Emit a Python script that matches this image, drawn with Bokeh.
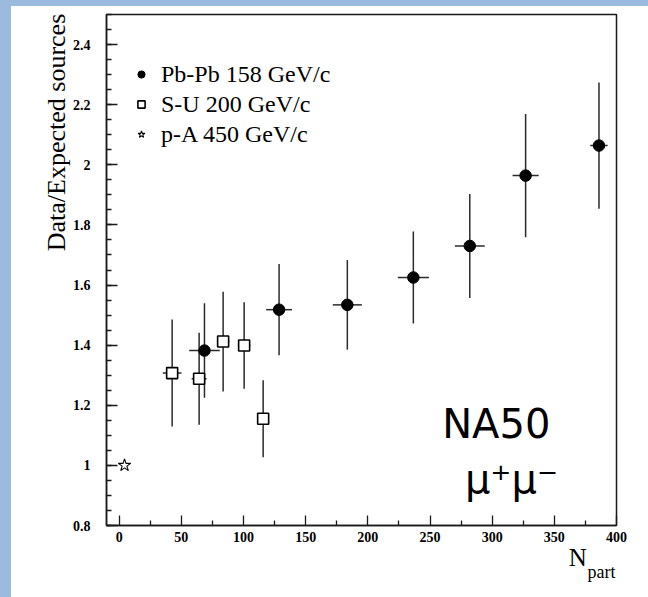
from math import pi
from bokeh.plotting import figure
from bokeh.models import (FixedTicker, Legend, LegendItem, Label, LinearAxis,
                          GlobalInlineStyleSheet)
from bokeh.embed import file_html
from bokeh.resources import INLINE

# ---- data ----
# Pb-Pb 158 GeV/c
pb_npart = [68.6, 128.6, 183.5, 236.6, 282.0, 326.9, 385.9]
pb_ratio = [1.382, 1.518, 1.534, 1.625, 1.730, 1.964, 2.064]
pb_yerr = [0.157, 0.152, 0.149, 0.153, 0.173, 0.205, 0.210]
pb_xerr = [12.3, 10.4, 11.7, 12.5, 12.0, 10.5, 7.0]
# S-U 200 GeV/c
su_npart = [42.6, 64.3, 83.6, 100.5, 115.8]
su_ratio = [1.307, 1.288, 1.412, 1.399, 1.155]
su_yerr = [0.178, 0.153, 0.166, 0.144, 0.128]
su_xerr = [7.5, 6.0, 5.0, 5.0, 4.0]
# p-A 450 GeV/c
pa_npart = [4.3]
pa_ratio = [1.0]

x_ticks = [0, 50, 100, 150, 200, 250, 300, 350, 400]
x_tick_labels = ["0", "50", "100", "150", "200", "250", "300", "350", "400"]
y_ticks = [0.8, 1.0, 1.2, 1.4, 1.6, 1.8, 2.0, 2.2, 2.4]
y_tick_labels = ["0.8", "1", "1.2", "1.4", "1.6", "1.8", "2", "2.2", "2.4"]
series_labels = ["Pb-Pb 158 GeV/c", "S-U 200 GeV/c", "p-A 450 GeV/c"]
y_title = "Data/Expected sources"
x_title = "N"
x_title_sub = "part"

SERIF = "Liberation Serif"
INK = "#1a1a1a"

p = figure(width=636, height=590, output_backend="svg", toolbar_location=None,
           x_range=(-10.2, 400), y_range=(0.8, 2.5),
           min_border_left=95, min_border_right=31, min_border_top=8, min_border_bottom=71)
p.grid.visible = False
p.outline_line_color = INK
p.outline_line_width = 1.5
p.background_fill_color = "white"
p.border_fill_color = "white"

p.stylesheets = [GlobalInlineStyleSheet(css=(
    "html { background: linear-gradient(to right, #9bbade 0px, #9bbade 11px, rgba(0,0,0,0) 11px),"
    " linear-gradient(to bottom, #9bbade 0px, #9bbade 6px, #ffffff 6px) !important; }"
    " body { padding: 6px 0 0 11px !important; background: transparent !important; }"))]

# axes
p.xaxis.ticker = FixedTicker(ticks=x_ticks, minor_ticks=[v + 25 for v in x_ticks[:-1]])
p.xaxis.major_label_overrides = {t: s for t, s in zip(x_ticks, x_tick_labels)}
minor_y = [round(0.8 + 0.05 * i, 2) for i in range(35)]
p.yaxis.ticker = FixedTicker(ticks=y_ticks, minor_ticks=minor_y)
p.yaxis.major_label_overrides = {t: s for t, s in zip(y_ticks, y_tick_labels)}
for ax in (p.xaxis, p.yaxis):
    ax.axis_line_color = INK
    ax.axis_line_width = 1.5
    ax.major_tick_line_color = INK
    ax.minor_tick_line_color = INK
    ax.major_tick_line_width = 1.3
    ax.minor_tick_line_width = 1.3
    ax.major_tick_out = 0
    ax.minor_tick_out = 0
    ax.major_label_text_font = SERIF
    ax.major_label_text_font_style = "bold"
    ax.major_label_text_font_size = "14px"
    ax.major_label_text_color = "black"
p.xaxis.major_tick_in = 10
p.xaxis.minor_tick_in = 5
p.yaxis.major_tick_in = 11
p.yaxis.minor_tick_in = 5
p.xaxis.major_label_standoff = 6
p.yaxis.major_label_standoff = 16


def title_axis(pos, text, size, standoff, orientation="horizontal"):
    ax = LinearAxis(ticker=FixedTicker(ticks=[pos], minor_ticks=[]),
                    major_label_overrides={pos: text},
                    axis_line_color=None, major_tick_line_color=None,
                    minor_tick_line_color=None, major_tick_in=0, major_tick_out=0,
                    minor_tick_in=0, minor_tick_out=0,
                    major_label_standoff=standoff, major_label_orientation=orientation,
                    major_label_text_font=SERIF, major_label_text_font_size=size,
                    major_label_text_color="black")
    return ax


# axis titles as extra (line-less) axes so they can sit outside the frame
p.add_layout(title_axis(2.1075, y_title, "26px", -2, "parallel"), "left")
p.add_layout(title_axis(368.8, x_title, "25px", -1), "below")
p.add_layout(title_axis(387.9, x_title_sub, "18px", -12), "below")

# error bars
ERR = "#2b2b2b"
p.segment(x0=pb_npart, x1=pb_npart,
          y0=[v - e for v, e in zip(pb_ratio, pb_yerr)],
          y1=[v + e for v, e in zip(pb_ratio, pb_yerr)], line_color=ERR, line_width=1.5)
p.segment(x0=[v - e for v, e in zip(pb_npart, pb_xerr)],
          x1=[v + e for v, e in zip(pb_npart, pb_xerr)],
          y0=pb_ratio, y1=pb_ratio, line_color=ERR, line_width=1.5)
p.segment(x0=su_npart, x1=su_npart,
          y0=[v - e for v, e in zip(su_ratio, su_yerr)],
          y1=[v + e for v, e in zip(su_ratio, su_yerr)], line_color=ERR, line_width=1.5)
p.segment(x0=[v - e for v, e in zip(su_npart, su_xerr)],
          x1=[v + e for v, e in zip(su_npart, su_xerr)],
          y0=su_ratio, y1=su_ratio, line_color=ERR, line_width=1.5)

# markers
r_pb = p.scatter(pb_npart, pb_ratio, marker="circle", size=11.5,
                 fill_color="black", line_color="black", line_width=1)
r_su = p.scatter(su_npart, su_ratio, marker="square", size=11,
                 fill_color="white", line_color="black", line_width=1.6)
r_pa = p.scatter(pa_npart, pa_ratio, marker="star", size=13,
                 fill_color="white", line_color="black", line_width=1.1)

legend = Legend(items=[LegendItem(label=series_labels[0], renderers=[r_pb]),
                       LegendItem(label=series_labels[1], renderers=[r_su]),
                       LegendItem(label=series_labels[2], renderers=[r_pa])],
                location=(26, 377), margin=0, padding=0, spacing=2,
                glyph_width=18, glyph_height=18, label_height=28, label_standoff=11,
                label_text_font=SERIF, label_text_font_size="24px", label_text_color="black",
                border_line_color=None, background_fill_alpha=0)
p.add_layout(legend, "center")

# texts inside the frame
p.add_layout(Label(x=303.3, y=1.139, text="NA50", text_align="center", text_baseline="alphabetic",
                   text_font="DejaVu Sans", text_font_size="40px", text_color="black"))
p.add_layout(Label(x=315.5, y=0.955, text="\u03bc\u207a\u03bc\u207b", text_align="center",
                   text_baseline="alphabetic", text_font="DejaVu Sans", text_font_size="40px",
                   text_color="black"))

open("out.html", "w").write(file_html(p, INLINE))
